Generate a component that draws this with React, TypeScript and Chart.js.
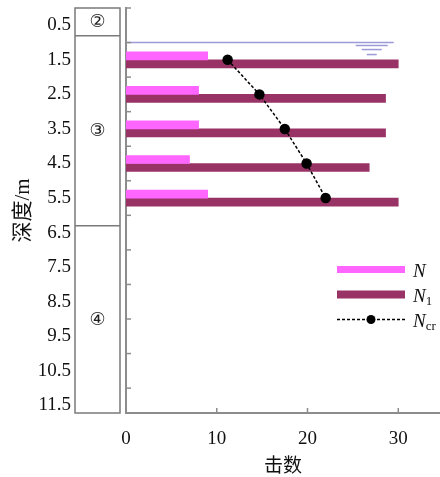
import React, { useEffect, useRef } from "react";
import { Chart, registerables } from "chart.js";

Chart.register(...registerables);

// ---- data ----
const depths = [1.5, 2.5, 3.5, 4.5, 5.5];
const nValues = [9, 8, 8, 7, 9];
const n1Values = [30, 28.6, 28.6, 26.8, 30];
const ncrValues = [11.2, 14.7, 17.5, 19.9, 22.0];
const waterDepth = 1.0;
const waterExtent = [0, 29.5];
const depthTickLabels = [0.5, 1.5, 2.5, 3.5, 4.5, 5.5, 6.5, 7.5, 8.5, 9.5, 10.5, 11.5];
const depthMarks = [0, 1, 2, 3, 4, 5, 6, 7, 8, 9, 10, 11];
const blowTicks = [0, 10, 20, 30];
const blowMarks = [10, 20, 30];
const layerNames = ["②", "③", "④"];
const layerTops = [0, 0.8, 6.3];
const depthMax = 11.72;
const blowMax = 34.6;
const seriesLabels = ["N", "N1", "Ncr"];

const SERIF = "'Liberation Serif', 'Noto Sans CJK SC', serif";
const AXIS_GREY = "#8c8c8c";
const PINK = "#ff66ff";
const MAROON = "#993366";

const decorPlugin = {
  id: "decor",
  afterDraw(chart: any) {
    const ctx = chart.ctx;
    const xs = chart.scales.x;
    const ys = chart.scales.y;
    const area = chart.chartArea;
    ctx.save();
    // inside tick marks
    ctx.strokeStyle = AXIS_GREY;
    ctx.lineWidth = 1.5;
    depthMarks.forEach((d) => {
      const py = ys.getPixelForValue(d);
      ctx.beginPath();
      ctx.moveTo(area.left, py);
      ctx.lineTo(area.left + 5, py);
      ctx.stroke();
    });
    blowMarks.forEach((v) => {
      const px = xs.getPixelForValue(v);
      ctx.beginPath();
      ctx.moveTo(px, area.bottom);
      ctx.lineTo(px, area.bottom - 5);
      ctx.stroke();
    });
    // stratigraphic column
    const colL = area.left - 51;
    const colR = area.left - 6;
    const top = ys.getPixelForValue(0);
    const bottom = area.bottom;
    ctx.strokeStyle = "#7a7a7a";
    ctx.lineWidth = 1.5;
    ctx.strokeRect(colL, top, colR - colL, bottom - top);
    layerTops.forEach((d, i) => {
      const y0 = ys.getPixelForValue(d);
      const y1 = i + 1 < layerTops.length ? ys.getPixelForValue(layerTops[i + 1]) : bottom;
      if (i > 0) {
        ctx.beginPath();
        ctx.moveTo(colL, y0);
        ctx.lineTo(colR, y0);
        ctx.stroke();
      }
      ctx.fillStyle = "#222";
      ctx.font = "18px 'DejaVu Sans', 'Noto Sans CJK SC', sans-serif";
      ctx.textAlign = "center";
      ctx.textBaseline = "middle";
      ctx.fillText(layerNames[i], (colL + colR) / 2, (y0 + y1) / 2 + 1);
    });
    // water table symbol
    const wy = ys.getPixelForValue(waterDepth);
    const wx = xs.getPixelForValue(waterExtent[1]) - 22;
    ctx.strokeStyle = "#9b9bd8";
    ctx.lineWidth = 1.5;
    [[16, 3], [10, 7], [5, 12]].forEach(([hw, dy]) => {
      ctx.beginPath();
      ctx.moveTo(wx - hw, wy + dy);
      ctx.lineTo(wx + hw, wy + dy);
      ctx.stroke();
    });
    // legend
    const lx = area.right - 103;
    const lw = 68;
    const rows = [269.5, 294.5, 319.5];
    ctx.fillStyle = PINK;
    ctx.fillRect(lx, rows[0] - 3.5, lw, 7);
    ctx.fillStyle = MAROON;
    ctx.fillRect(lx, rows[1] - 4, lw, 8);
    ctx.strokeStyle = "#000";
    ctx.lineWidth = 1.3;
    ctx.setLineDash([3, 2]);
    ctx.beginPath();
    ctx.moveTo(lx, rows[2]);
    ctx.lineTo(lx + lw, rows[2]);
    ctx.stroke();
    ctx.setLineDash([]);
    ctx.fillStyle = "#000";
    ctx.beginPath();
    ctx.arc(lx + lw / 2, rows[2], 4.5, 0, Math.PI * 2);
    ctx.fill();
    ctx.textAlign = "left";
    ctx.textBaseline = "alphabetic";
    seriesLabels.forEach((lab, i) => {
      const tx = lx + lw + 8;
      const base = rows[i] + 7;
      ctx.fillStyle = "#111";
      ctx.font = "italic 19px " + SERIF;
      ctx.fillText(lab.charAt(0), tx, base);
      const w = ctx.measureText(lab.charAt(0)).width;
      if (lab.length > 1) {
        ctx.font = "13px " + SERIF;
        ctx.fillText(lab.slice(1), tx + w, base + 3);
      }
    });
    ctx.restore();
  },
};

export default function App() {
  const ref = useRef<HTMLCanvasElement>(null);
  useEffect(() => {
    if (!ref.current) return;
    Chart.defaults.font.family = SERIF;
    Chart.defaults.font.size = 19;
    Chart.defaults.color = "#111";
    const chart = new Chart(ref.current, {
      type: "bar",
      data: {
        datasets: [
          {
            type: "bar",
            label: seriesLabels[0],
            data: depths.map((d, i) => ({ x: nValues[i], y: d })),
            backgroundColor: PINK,
            barThickness: 8,
            order: 1,
          },
          {
            type: "bar",
            label: seriesLabels[1],
            data: depths.map((d, i) => ({ x: n1Values[i], y: d })),
            backgroundColor: MAROON,
            barThickness: 8,
            order: 1,
          },
          {
            type: "line",
            label: seriesLabels[2],
            data: depths.map((d, i) => ({ x: ncrValues[i], y: d })),
            borderColor: "#000",
            borderWidth: 1.5,
            borderDash: [3, 2],
            pointRadius: 4.5,
            pointBackgroundColor: "#000",
            pointBorderColor: "#000",
            order: 0,
          },
          {
            type: "line",
            label: "水位",
            data: waterExtent.map((x) => ({ x, y: waterDepth })),
            borderColor: "#9b9bd8",
            borderWidth: 1.5,
            pointRadius: 0,
            order: 2,
          },
        ] as any,
      },
      options: {
        indexAxis: "y",
        animation: false,
        responsive: false,
        devicePixelRatio: 1,
        layout: { autoPadding: false, padding: { top: 8, left: 0, right: 0, bottom: 0 } },
        plugins: { legend: { display: false }, tooltip: { enabled: false } },
        scales: {
          x: {
            type: "linear",
            min: 0,
            max: blowMax,
            afterBuildTicks: (s: any) => {
              s.ticks = blowTicks.map((v) => ({ value: v }));
            },
            afterFit: (s: any) => {
              s.height = 64;
              s.paddingLeft = 0;
              s.paddingRight = 0;
            },
            ticks: { padding: 15, font: { size: 19 }, color: "#111" },
            grid: { display: false, drawTicks: false },
            border: { display: true, color: AXIS_GREY, width: 2 },
            title: { display: true, text: "击数", font: { size: 19 }, color: "#111", padding: { top: 0, bottom: -1 } },
          },
          y: {
            type: "linear",
            reverse: true,
            min: 0,
            max: depthMax,
            offset: false,
            afterBuildTicks: (s: any) => {
              s.ticks = depthTickLabels.map((v) => ({ value: v }));
            },
            afterFit: (s: any) => {
              s.width = 126;
              s.paddingTop = 0;
              s.paddingBottom = 0;
            },
            ticks: {
              padding: 55,
              font: { size: 19 },
              color: "#111",
              callback: (v: any) => Number(v).toFixed(1),
            },
            grid: { display: false, drawTicks: false },
            border: { display: true, color: AXIS_GREY, width: 2 },
            title: { display: true, text: "深度/m", font: { size: 21 }, color: "#111", padding: { top: 11, bottom: 0 } },
          },
        },
      } as any,
      plugins: [decorPlugin],
    });
    return () => chart.destroy();
  }, []);
  return (
    <div style={{ position: "absolute", left: 0, top: 0, width: 440, height: 477, background: "#fff" }}>
      <canvas ref={ref} width={440} height={477} />
    </div>
  );
}
